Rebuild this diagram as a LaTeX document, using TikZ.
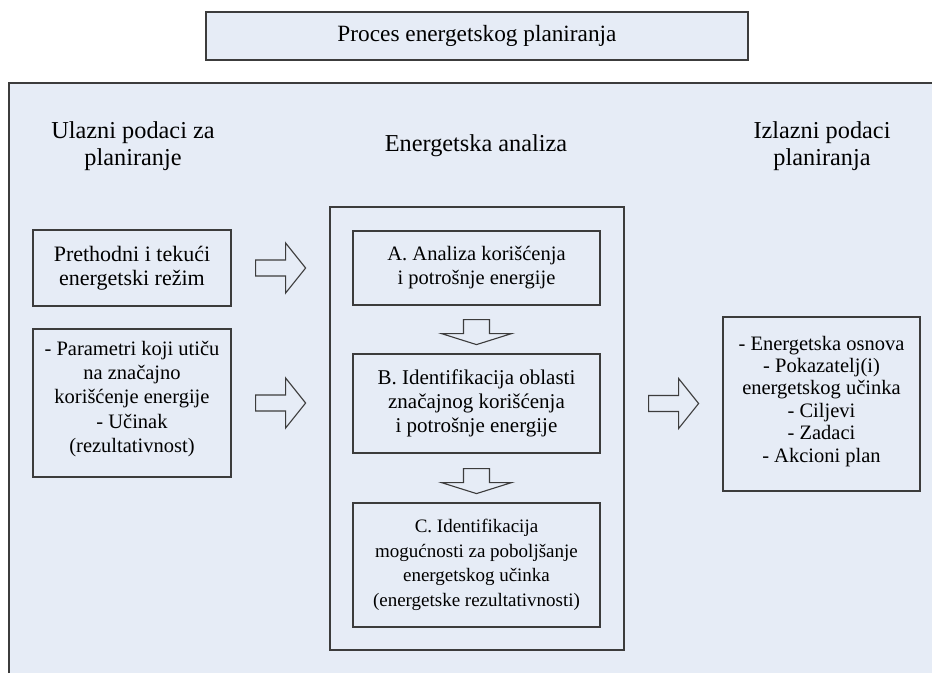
\documentclass[tikz,border=0pt]{standalone}
\usepackage{fontspec}
\setmainfont{Liberation Serif}
\usetikzlibrary{calc}
\definecolor{panelblue}{RGB}{230,236,246}
\definecolor{edgegray}{RGB}{60,60,60}
\tikzset{
  box/.style={draw=edgegray,line width=1.2pt,fill=panelblue,align=center,inner sep=0pt,
    font=\fontsize{20.5}{24}\selectfont},
  header/.style={align=center,inner sep=0pt,font=\fontsize{24.3}{27}\selectfont},
  barrow/.style={draw=edgegray,line width=1.1pt,fill=panelblue,line join=miter},
  rblock/.pic={\draw[barrow] (0,-8) -- (30,-8) -- (30,-25) -- (50,0) -- (30,25) -- (30,8) -- (0,8) -- cycle;},
  dblock/.pic={\draw[barrow] (-13,0) -- (-13,14) -- (-35,14) -- (0,25) -- (35,14) -- (13,14) -- (13,0) -- cycle;}
}
\begin{document}
\begin{tikzpicture}[x=1pt,y=-1pt]
\useasboundingbox (0,0) rectangle (932,673);
\fill[white] (0,0) rectangle (932,673);
\fill[panelblue] (9,83) rectangle (932,673);
\draw[edgegray,line width=1.3pt] (9,673) -- (9,83) -- (932,83);

\node[box,line width=1.5pt,minimum width=542pt,minimum height=48pt,font=\fontsize{23.3}{26}\selectfont] (title) at (477,36) {Proces energetskog planiranja};

\node[header] (hin) at (133,146) {Ulazni podaci za\\planiranje};
\node[header] (hmid) at (476,146) {Energetska analiza};
\node[header] (hout) at (822,146) {Izlazni podaci\\planiranja};

\node[box,minimum width=198pt,minimum height=76pt,font=\fontsize{22}{24}\selectfont] (in1) at (132,268) {Prethodni i tekući\\energetski režim};
\node[box,minimum width=198pt,minimum height=148pt,font=\fontsize{20.5}{24.3}\selectfont] (in2) at (132,403) {\mbox{}\\[-18.3pt]- Parametri koji utiču\\na značajno\\korišćenje energije\\- Učinak\\(rezultativnost)};

\node[box,minimum width=294pt,minimum height=443pt] (mid) at (477,428.5) {};
\node[box,minimum width=247pt,minimum height=74pt] (A) at (476.5,268) {A. Analiza korišćenja\\i potrošnje energije};
\node[box,minimum width=247pt,minimum height=99pt,font=\fontsize{21}{24}\selectfont] (B) at (476.5,403.5) {B. Identifikacija oblasti\\značajnog korišćenja\\i potrošnje energije};
\node[box,minimum width=247pt,minimum height=124pt,font=\fontsize{19}{24.5}\selectfont] (C) at (476.5,565) {C. Identifikacija\\mogućnosti za poboljšanje\\energetskog učinka\\(energetske rezultativnosti)};

\node[box,minimum width=197pt,minimum height=174pt,font=\fontsize{20.5}{22.4}\selectfont] (out) at (821.5,404) {- Energetska osnova\\- Pokazatelj(i)\\energetskog učinka\\- Ciljevi\\- Zadaci\\- Akcioni plan\\[-12.4pt]\mbox{}};

\pic at ($(in1.east)+(24,0)$) {rblock};
\pic at ($(in2.east)+(24,0)$) {rblock};
\pic at ($(mid.east)+(24,-25)$) {rblock};
\pic at ($(A.south)+(0,14)$) {dblock};
\pic at ($(B.south)+(0,15)$) {dblock};
\end{tikzpicture}
\end{document}
